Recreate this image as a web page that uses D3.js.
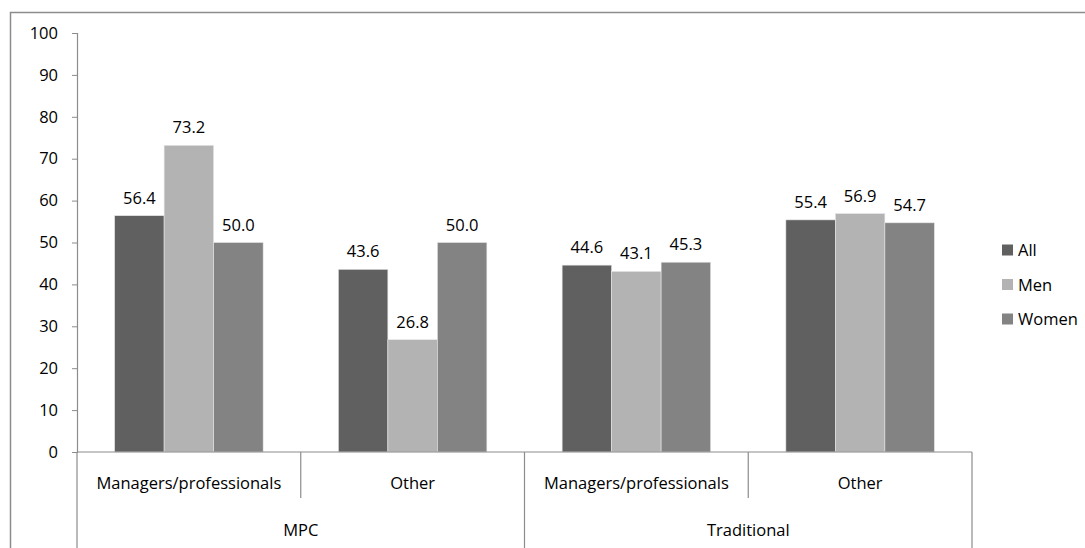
<!DOCTYPE html>
<html>
<head>
<meta charset="utf-8">
<script src="https://cdn.jsdelivr.net/npm/d3@7"></script>
<style>
  body { margin: 0; background: #fff; }
  svg text { font-family: "Open Sans", sans-serif; fill: #000; }
</style>
</head>
<body>
<div id="chart"></div>
<script>
// data
const groups = ["MPC", "Traditional"];
const categories = ["Managers/professionals", "Other"];
const seriesNames = ["All", "Men", "Women"];
const allValues = [56.4, 43.6, 44.6, 55.4];
const menValues = [73.2, 26.8, 43.1, 56.9];
const womenValues = [50.0, 50.0, 45.3, 54.7];
const yTicks = [0, 10, 20, 30, 40, 50, 60, 70, 80, 90, 100];
const colors = ["#606060", "#b3b3b3", "#838383"];

const width = 1085, height = 548;
const plotLeft = 77, plotRight = 972, plotTop = 33, plotBottom = 452;
const fontSize = "16.5px";

// build rows: one per category within group
let rows = [];
groups.forEach((g, gi) => {
    categories.forEach((c, ci) => {
        let i = gi * categories.length + ci;
        rows.push({key: g + "|" + c, group: g, cat: c,
            values: [allValues[i], menValues[i], womenValues[i]]});
    });
});

const svg = d3.select("#chart").append("svg")
    .attr("width", width).attr("height", height);

// outer frame
svg.append("path")
    .attr("d", `M10.5,${height} V12.5 H${width}`)
    .attr("fill", "none").attr("stroke", "#8c8c8c").attr("stroke-width", 1.5);

const y = d3.scaleLinear().domain([0, 100]).range([plotBottom, plotTop]);
const x0 = d3.scaleBand().domain(rows.map(d => d.key)).range([plotLeft, plotRight]).paddingInner(0).paddingOuter(0);
const x1 = d3.scaleBand().domain(seriesNames).range([0, x0.bandwidth()]).paddingOuter(0.76).paddingInner(0);

// y axis
const yAxis = svg.append("g")
    .attr("transform", `translate(${plotLeft},0)`)
    .call(d3.axisLeft(y).tickValues(yTicks).tickSize(5).tickPadding(14));
yAxis.select(".domain").attr("stroke", "#8c8c8c").attr("stroke-width", 1.2);
yAxis.selectAll(".tick line").attr("stroke", "#8c8c8c");
yAxis.selectAll(".tick text").style("font-size", fontSize).attr("fill", "#000");

// bars
const catG = svg.selectAll(".cat").data(rows).enter().append("g")
    .attr("class", "cat")
    .attr("transform", d => `translate(${x0(d.key)},0)`);

catG.selectAll("rect").data(d => d.values.map((v, i) => ({name: seriesNames[i], v, i})))
    .enter().append("rect")
    .attr("x", d => x1(d.name))
    .attr("width", x1.bandwidth())
    .attr("y", d => y(d.v))
    .attr("height", d => y(0) - y(d.v))
    .attr("fill", d => colors[d.i])
    .attr("stroke", "#e6e6e6").attr("stroke-width", 0.6);

catG.selectAll(".lbl").data(d => d.values.map((v, i) => ({name: seriesNames[i], v, i})))
    .enter().append("text")
    .attr("class", "lbl")
    .attr("x", d => x1(d.name) + x1.bandwidth() / 2)
    .attr("y", d => y(d.v) - 12)
    .attr("text-anchor", "middle")
    .style("font-size", fontSize)
    .text(d => d.v.toFixed(1));

// x axis: baseline + category dividers
const axisColor = "#8c8c8c";
svg.append("line")
    .attr("x1", plotLeft).attr("x2", plotRight).attr("y1", plotBottom).attr("y2", plotBottom)
    .attr("stroke", axisColor).attr("stroke-width", 1.2);

rows.forEach((d, i) => {
    let xs = x0(d.key);
    // divider: long at group edges, short between categories
    let isGroupEdge = i % categories.length === 0;
    svg.append("line")
        .attr("x1", xs).attr("x2", xs)
        .attr("y1", plotBottom).attr("y2", isGroupEdge ? height : plotBottom + 46)
        .attr("stroke", axisColor).attr("stroke-width", 1.2);
    svg.append("text")
        .attr("x", xs + x0.bandwidth() / 2)
        .attr("y", plotBottom + 37)
        .attr("text-anchor", "middle")
        .style("font-size", fontSize)
        .text(d.cat);
});
svg.append("line")
    .attr("x1", plotRight).attr("x2", plotRight).attr("y1", plotBottom).attr("y2", height)
    .attr("stroke", axisColor).attr("stroke-width", 1.2);

groups.forEach((g, gi) => {
    let x = plotLeft + (plotRight - plotLeft) / groups.length * (gi + 0.5);
    svg.append("text")
        .attr("x", x).attr("y", plotBottom + 84)
        .attr("text-anchor", "middle")
        .style("font-size", fontSize)
        .text(g);
});

// legend
const legend = svg.selectAll(".leg").data(seriesNames).enter().append("g")
    .attr("class", "leg")
    .attr("transform", (d, i) => `translate(1002,${250 + i * 34.5})`);
legend.append("rect")
    .attr("x", 0).attr("y", -5.5).attr("width", 11).attr("height", 11)
    .attr("fill", (d, i) => colors[i]);
legend.append("text")
    .attr("x", 16).attr("y", 6)
    .style("font-size", fontSize)
    .text(d => d);
</script>
</body>
</html>
